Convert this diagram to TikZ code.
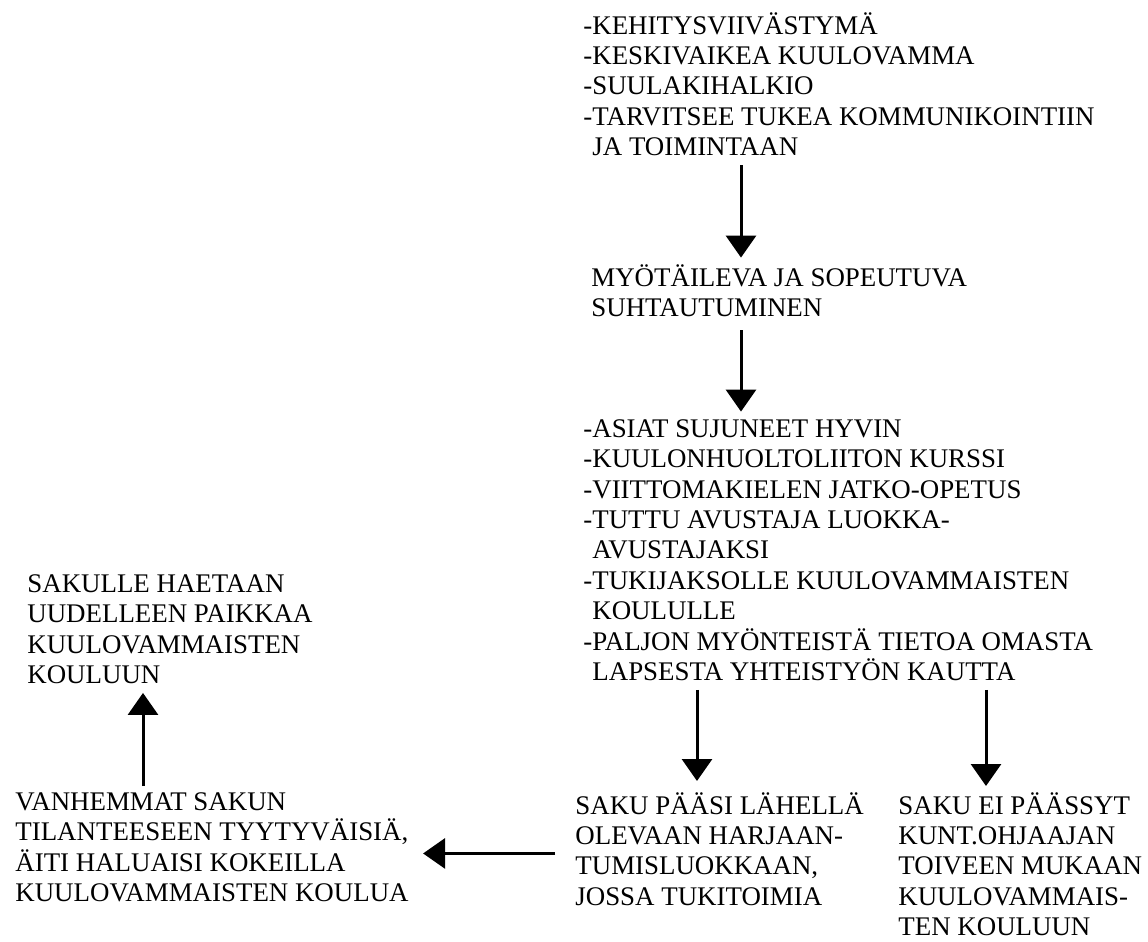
\documentclass[tikz,border=0pt]{standalone}
\usepackage{fontspec}
\setmainfont{Liberation Serif}
\usetikzlibrary{arrows.meta}

\begin{document}
\begin{tikzpicture}[x=0.5pt, y=-0.5pt,
        txt/.style={anchor=north west, align=left, inner sep=0pt,
            font=\fontsize{13.45}{15.2}\selectfont,
            execute at begin node=\strut, execute at end node=\strut},
        arr/.style={-{Triangle[width=15pt,length=11pt]}, line width=1.5pt}]
        \useasboundingbox (0,0) rectangle (1148,942);
        % texts
        \node[txt] (kehitys) at (583,12) {-KEHITYSVIIVÄSTYMÄ\\-KESKIVAIKEA KUULOVAMMA\\-SUULAKIHALKIO\\-TARVITSEE TUKEA KOMMUNIKOINTIIN\\\hspace*{4.5pt}JA TOIMINTAAN};
        \node[txt] (myotailu) at (591,264) {MYÖTÄILEVA JA SOPEUTUVA\\SUHTAUTUMINEN};
        \node[txt] (asiat) at (583,419) {-ASIAT SUJUNEET HYVIN\\-KUULONHUOLTOLIITON KURSSI\\-VIITTOMAKIELEN JATKO-OPETUS\\-TUTTU AVUSTAJA LUOKKA-\\\hspace*{4.5pt}AVUSTAJAKSI\\-TUKIJAKSOLLE KUULOVAMMAISTEN\\\hspace*{4.5pt}KOULULLE\\-PALJON MYÖNTEISTÄ TIETOA OMASTA\\\hspace*{4.5pt}LAPSESTA YHTEISTYÖN KAUTTA};
        \node[txt] (paasi) at (575,792) {SAKU PÄÄSI LÄHELLÄ\\OLEVAAN HARJAAN-\\TUMISLUOKKAAN,\\JOSSA TUKITOIMIA};
        \node[txt] (eipaassyt) at (898,792) {SAKU EI PÄÄSSYT\\KUNT.OHJAAJAN\\TOIVEEN MUKAAN\\KUULOVAMMAIS-\\TEN KOULUUN};
        \node[txt] (vanhemmat) at (15,792) {VANHEMMAT SAKUN\\TILANTEESEEN TYYTYVÄISIÄ,\\ÄITI HALUAISI KOKEILLA\\KUULOVAMMAISTEN KOULUA};
        \node[txt] (sakulle) at (27,574) {SAKULLE HAETAAN\\UUDELLEEN PAIKKAA\\KUULOVAMMAISTEN\\KOULUUN};
        % arrow columns
        \coordinate (xa) at (741,0);
        \coordinate (xb) at (697,0);
        \coordinate (xc) at (986,0);
        \coordinate (xd) at (143,0);
        \draw[arr, shorten >=3.2pt] (kehitys.south -| xa) -- (myotailu.north -| xa);
        \draw[arr, shorten <=2pt, shorten >=3.7pt] (myotailu.south -| xa) -- (asiat.north -| xa);
        \draw[arr, shorten >=5.5pt] (asiat.south -| xb) -- (paasi.north -| xb);
        \draw[arr, shorten >=3pt] (asiat.south -| xc) -- (eipaassyt.north -| xc);
        \draw[arr, shorten <=10pt, shorten >=7pt] (paasi.west) -- (paasi.west -| vanhemmat.east);
        \draw[arr, shorten <=3pt] (vanhemmat.north -| xd) -- (sakulle.south -| xd);
    \end{tikzpicture}
\end{document}
